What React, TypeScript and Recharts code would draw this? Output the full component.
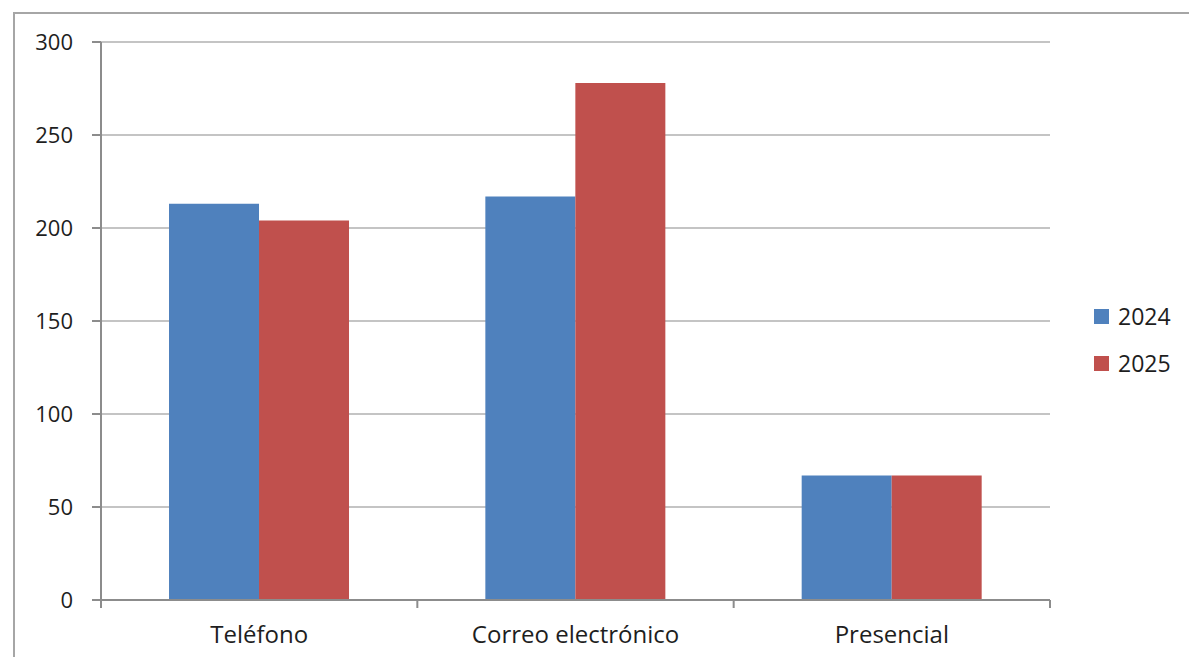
import React from 'react';
import { BarChart, Bar, XAxis, YAxis, CartesianGrid } from 'recharts';

const categories = ['Teléfono', 'Correo electrónico', 'Presencial'];
const values2024 = [213, 217, 67];
const values2025 = [204, 278, 67];
const yTicks = [0, 50, 100, 150, 200, 250, 300];
const seriesNames = ['2024', '2025'];
const seriesColors = ['#4F81BD', '#C0504D'];

const W = 1189;
const H = 657;
const MARGIN = { top: 42, right: 139, bottom: 0, left: 21 };
const Y_AXIS_W = 80;
const X_AXIS_H = 57;
const FONT = '"Open Sans", sans-serif';

const data = categories.map((name, i) => ({
  name,
  v2024: values2024[i],
  v2025: values2025[i],
}));

const plotWidth = W - MARGIN.left - MARGIN.right - Y_AXIS_W;
const band = plotWidth / categories.length;

// label centred in the band, tick marks on the band edges like Excel
const CategoryTick = (props: any) => {
  const { x, y, payload, index } = props;
  const left = x - band / 2;
  const top = y - 8;
  return (
    <g>
      <line x1={left} y1={top} x2={left} y2={top + 8} stroke="#8C8C8C" strokeWidth={2} />
      {index === categories.length - 1 && (
        <line x1={left + band} y1={top} x2={left + band} y2={top + 8} stroke="#8C8C8C" strokeWidth={2} />
      )}
      <text x={x} y={top + 43} textAnchor="middle" fill="#1E1E1E" fontSize={24} fontFamily={FONT}>
        {payload.value}
      </text>
    </g>
  );
};

export default function App() {
  return (
    <div style={{ position: 'absolute', left: 0, top: 0, width: W, height: H, overflow: 'hidden', background: '#fff' }}>
      <div
        style={{
          position: 'absolute',
          left: 13,
          top: 12,
          width: W + 20,
          height: H + 20,
          border: '2px solid #A6A6A6',
        }}
      />
      <div style={{ position: 'absolute', left: 0, top: 0 }}>
        <BarChart width={W} height={H} data={data} margin={MARGIN} barCategoryGap="21.5%" barGap={0}>
          <CartesianGrid vertical={false} stroke="#C4C4C4" strokeWidth={2} />
          <XAxis
            dataKey="name"
            height={X_AXIS_H}
            tickLine={false}
            axisLine={{ stroke: '#8C8C8C', strokeWidth: 2 }}
            tick={<CategoryTick />}
            interval={0}
          />
          <YAxis
            width={Y_AXIS_W}
            domain={[0, 300]}
            ticks={yTicks}
            interval={0}
            tickSize={9}
            tickMargin={19}
            tickLine={{ stroke: '#8C8C8C', strokeWidth: 2 }}
            axisLine={{ stroke: '#8C8C8C', strokeWidth: 2 }}
            tick={{ fill: '#1E1E1E', fontSize: 22, fontFamily: FONT }}
          />
          <Bar dataKey="v2024" name={seriesNames[0]} fill={seriesColors[0]} isAnimationActive={false} />
          <Bar dataKey="v2025" name={seriesNames[1]} fill={seriesColors[1]} isAnimationActive={false} />
        </BarChart>
      </div>
      <div style={{ position: 'absolute', left: 1094, top: 299, fontFamily: FONT, fontSize: 23, color: '#1E1E1E' }}>
        {seriesNames.map((s, i) => (
          <div key={s} style={{ display: 'flex', alignItems: 'center', height: 34, marginBottom: 13 }}>
            <span style={{ display: 'inline-block', width: 15, height: 15, background: seriesColors[i], marginRight: 9 }} />
            {s}
          </div>
        ))}
      </div>
    </div>
  );
}
